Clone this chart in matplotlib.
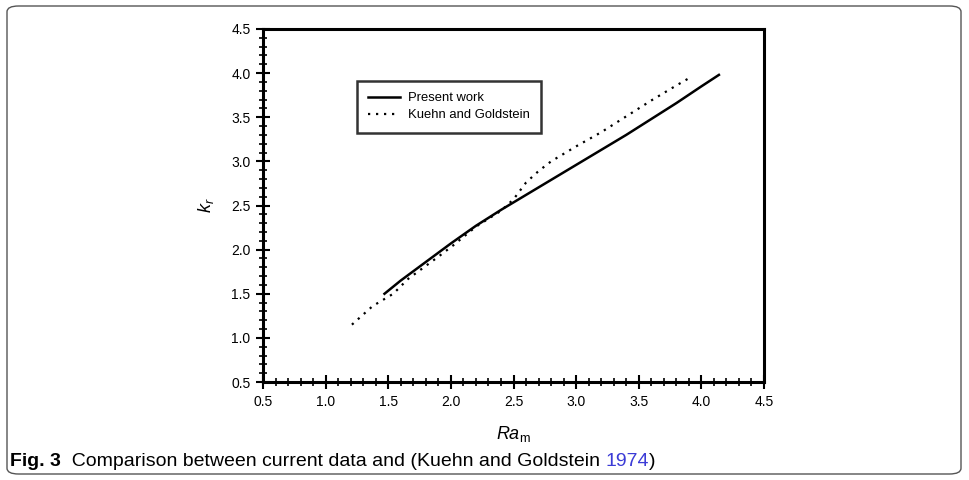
import matplotlib
matplotlib.use("Agg")
import matplotlib.pyplot as plt
from matplotlib.patches import FancyBboxPatch
from matplotlib.ticker import MultipleLocator, FormatStrFormatter

plt.rcParams['font.family'] = ['Liberation Sans', 'DejaVu Sans']
plt.rcParams['mathtext.fontset'] = 'custom'
plt.rcParams['mathtext.rm'] = 'Liberation Sans'
plt.rcParams['mathtext.it'] = 'Liberation Sans:italic'

# Present work
ra_present = [1.47, 1.6, 1.8, 2.0, 2.2, 2.4, 2.6, 2.8, 3.0, 3.2, 3.4, 3.6, 3.8, 4.0, 4.14]
kr_present = [1.50, 1.65, 1.86, 2.07, 2.27, 2.45, 2.62, 2.79, 2.96, 3.13, 3.30, 3.48, 3.66, 3.85, 3.98]

# Kuehn and Goldstein (1974)
ra_kuehn = [1.21, 1.375, 1.54, 1.66, 1.9, 2.02, 2.2, 2.4, 2.5, 2.6, 2.7, 2.8, 3.0, 3.2, 3.4, 3.6, 3.8, 3.91]
kr_kuehn = [1.15, 1.36, 1.50, 1.67, 1.92, 2.05, 2.26, 2.44, 2.57, 2.76, 2.89, 3.00, 3.17, 3.33, 3.51, 3.69, 3.86, 3.95]

fig = plt.figure(figsize=(9.69, 4.8), dpi=100)

# rounded frame around figure + caption
frame = FancyBboxPatch((7 / 969, 6 / 480), 954 / 969, 468 / 480,
                       boxstyle="round,pad=0,rounding_size=0.012",
                       transform=fig.transFigure, fill=False,
                       edgecolor='#555555', linewidth=1.0)
fig.patches.append(frame)

ax = fig.add_axes([263 / 969, 1 - 382 / 480, 501 / 969, 353 / 480])
ax.plot(ra_present, kr_present, color='black', lw=1.8, label='Present work')
ax.plot(ra_kuehn, kr_kuehn, color='black', lw=1.6, linestyle=(0, (1, 2.6)),
        label='Kuehn and Goldstein')

ax.set_xlim(0.5, 4.5)
ax.set_ylim(0.5, 4.5)
ax.xaxis.set_major_locator(MultipleLocator(0.5))
ax.yaxis.set_major_locator(MultipleLocator(0.5))
ax.xaxis.set_minor_locator(MultipleLocator(0.1))
ax.yaxis.set_minor_locator(MultipleLocator(0.1))
ax.xaxis.set_major_formatter(FormatStrFormatter('%.1f'))
ax.yaxis.set_major_formatter(FormatStrFormatter('%.1f'))
ax.tick_params(which='major', direction='inout', length=10, width=1.5,
               labelsize=10, pad=4)
ax.tick_params(which='minor', direction='inout', length=6, width=1.2)
for sp in ax.spines.values():
    sp.set_linewidth(2.2)

ax.set_xlabel(r'$\mathit{Ra}_{\mathrm{m}}$', fontsize=13, labelpad=11)
ax.set_ylabel(r'$\mathit{k}_{\mathit{r}}$', fontsize=13, labelpad=11)

leg = ax.legend(loc='upper left', bbox_to_anchor=(0.188, 0.853),
                borderaxespad=0, fontsize=9.4, frameon=True, fancybox=False,
                handlelength=2.4, handletextpad=0.65, borderpad=0.85,
                labelspacing=0.4)
leg.get_frame().set_edgecolor('black')
leg.get_frame().set_linewidth(1.8)

# caption: bold figure number, plain text, blue citation year
cap_size = 14
t1 = fig.text(10 / 969, 1 - 461 / 480, 'Fig. 3', fontsize=cap_size,
              fontweight='bold', va='center', ha='left')
t2 = ax.annotate('  Comparison between current data and (Kuehn and Goldstein ',
                 xy=(1, 0), xycoords=t1, va='bottom', ha='left',
                 fontsize=cap_size, annotation_clip=False)
t3 = ax.annotate('1974', xy=(1, 0), xycoords=t2, va='bottom', ha='left',
                 fontsize=cap_size, color='#3b3bd6', annotation_clip=False)
ax.annotate(')', xy=(1, 0), xycoords=t3, va='bottom', ha='left',
            fontsize=cap_size, annotation_clip=False)

fig.savefig('out.png', dpi=100)
